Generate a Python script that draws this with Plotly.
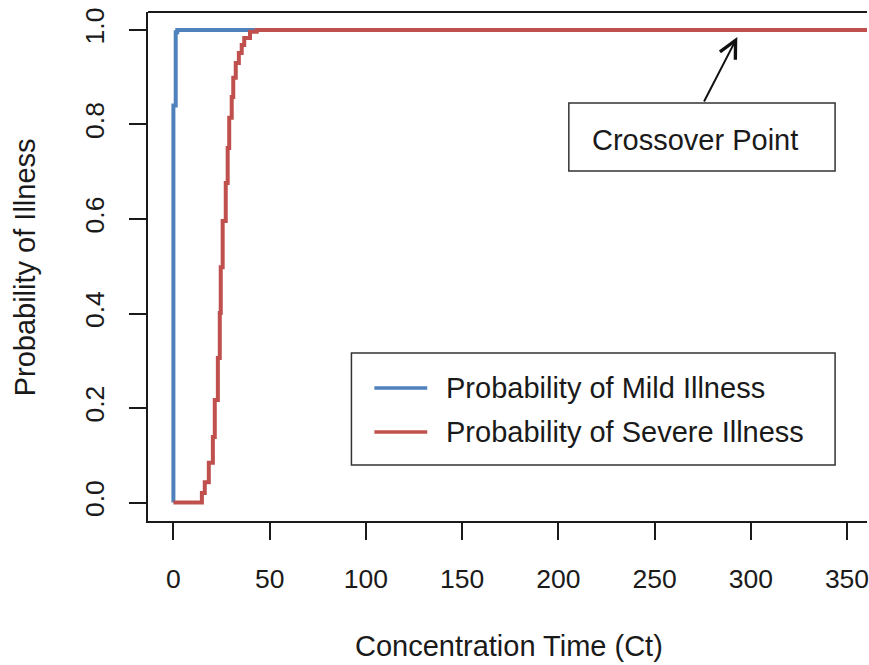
import plotly.graph_objects as go

# Step-wise cumulative probability curves (Ct on x, probability on y)
mild_ct = [0, 0, 1.2, 2.0, 400]
mild_prob = [0.0, 0.84, 0.995, 1.0, 1.0]

severe_ct = [0, 14.8, 16.3, 18.4, 20.5, 21.5, 23.1, 24.1, 24.6, 25.6, 27.2,
             28.2, 29.0, 30.3, 31.1, 32.4, 34.0, 35.5, 36.8, 39.8, 43.3, 400]
severe_prob = [0.0, 0.020, 0.043, 0.084, 0.139, 0.217, 0.306, 0.401, 0.498,
               0.596, 0.676, 0.750, 0.814, 0.858, 0.899, 0.930, 0.951, 0.968,
               0.983, 0.996, 1.0, 1.0]

x_ticks = [0, 50, 100, 150, 200, 250, 300, 350]
y_ticks = [0.0, 0.2, 0.4, 0.6, 0.8, 1.0]
y_tick_text = ["0.0", "0.2", "0.4", "0.6", "0.8", "1.0"]

series_names = ["Probability of Mild Illness", "Probability of Severe Illness"]
BLUE = "#4F81BD"
RED = "#C0504D"
colors = [BLUE, RED]
INK = "#1a1a1a"

TICK_FONT = dict(family="Liberation Sans, Arial, sans-serif", size=26.5, color=INK)
TEXT_FONT = dict(family="Liberation Sans, Arial, sans-serif", size=29, color=INK)

fig = go.Figure()
fig.add_trace(go.Scatter(x=mild_ct, y=mild_prob, mode="lines", name=series_names[0],
                         line=dict(color=colors[0], width=4, shape="hv")))
fig.add_trace(go.Scatter(x=severe_ct, y=severe_prob, mode="lines", name=series_names[1],
                         line=dict(color=colors[1], width=4, shape="hv")))

L, T, B = 148, 12, 144
W, H = 869, 665
plot_w = W - L
plot_h = H - T - B


def px_x(p):
    return (p - L) / plot_w


def px_y(p):
    return (H - B - p) / plot_h


fig.update_layout(
    width=W, height=H,
    margin=dict(l=L, r=0, t=T, b=B, pad=0),
    paper_bgcolor="white", plot_bgcolor="white",
    showlegend=False,
    xaxis=dict(
        range=[-13.2, 360.4], tickvals=x_ticks, ticktext=[str(v) for v in x_ticks],
        showgrid=False, zeroline=False, showline=True, linecolor=INK, linewidth=2,
        ticks="outside", ticklen=17, tickwidth=2, tickcolor=INK,
        tickfont=TICK_FONT, ticklabelstandoff=16, ticklabeloverflow="allow",
        mirror=False,
    ),
    yaxis=dict(
        range=[-0.039, 1.038], tickvals=y_ticks, ticktext=y_tick_text,
        showgrid=False, zeroline=False, showline=True, linecolor=INK, linewidth=2,
        ticks="outside", ticklen=17, tickwidth=2, tickcolor=INK,
        tickfont=TICK_FONT, tickangle=-90, ticklabelstandoff=14,
        ticklabeloverflow="allow", mirror=False,
    ),
)

# top edge of the plot frame (runs to the right edge of the page)
fig.add_shape(type="line", xref="paper", yref="paper", x0=0, x1=1, y0=1, y1=1,
              line=dict(color=INK, width=2))

# axis titles
fig.add_annotation(text="Concentration Time (Ct)", xref="paper", yref="paper",
                   x=px_x(510), y=px_y(646), xanchor="center", yanchor="middle",
                   showarrow=False, font=TEXT_FONT)
fig.add_annotation(text="Probability of Illness", xref="paper", yref="paper",
                   x=px_x(25), y=px_y(267), xanchor="center", yanchor="middle",
                   textangle=-90, showarrow=False, font=TEXT_FONT)

# legend box with line keys
fig.add_shape(type="rect", xref="paper", yref="paper",
              x0=px_x(352), x1=px_x(837), y0=px_y(465), y1=px_y(353),
              line=dict(color="#333333", width=1.5), fillcolor="white", layer="above")
for i, (name, col) in enumerate(zip(series_names, colors)):
    row_y = 388 + 44 * i
    fig.add_shape(type="line", xref="paper", yref="paper",
                  x0=px_x(375), x1=px_x(428), y0=px_y(row_y), y1=px_y(row_y),
                  line=dict(color=col, width=3.5), layer="above")
    fig.add_annotation(text=name, xref="paper", yref="paper",
                       x=px_x(445), y=px_y(row_y), xanchor="left", yanchor="middle",
                       showarrow=False, font=TEXT_FONT)

# crossover call-out box, label and arrow
fig.add_shape(type="rect", xref="paper", yref="paper",
              x0=px_x(570), x1=px_x(837), y0=px_y(171), y1=px_y(103),
              line=dict(color="#333333", width=1.5), fillcolor="white", layer="above")
fig.add_annotation(text="Crossover Point", xref="paper", yref="paper",
                   x=px_x(591), y=px_y(140), xanchor="left", yanchor="middle",
                   showarrow=False, font=TEXT_FONT)
fig.add_annotation(text="", x=293, y=0.985, xref="x", yref="y",
                   showarrow=True, ax=-34, ay=66, axref="pixel", ayref="pixel",
                   arrowhead=5, arrowsize=1.7, arrowwidth=2, arrowcolor="#111111",
                   standoff=0, startstandoff=0)

fig.write_html("out.html")
